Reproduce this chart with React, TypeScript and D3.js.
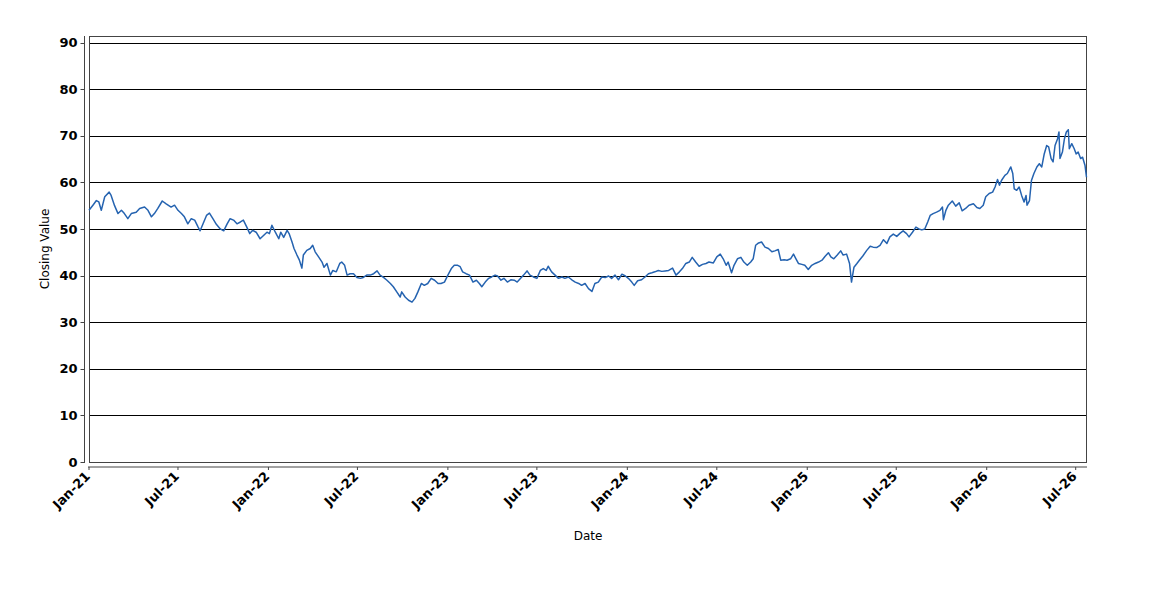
import React from "react";
import * as d3 from "d3";

const dates: string[] = [
  "2021-01-01","2021-01-09","2021-01-16","2021-01-21","2021-01-26","2021-02-02","2021-02-11","2021-02-15","2021-02-22","2021-03-01",
  "2021-03-08","2021-03-14","2021-03-21","2021-03-28","2021-04-07","2021-04-14","2021-04-24","2021-05-01","2021-05-08","2021-05-14",
  "2021-05-21","2021-05-30","2021-06-07","2021-06-17","2021-06-24","2021-07-01","2021-07-08","2021-07-14","2021-07-21","2021-07-28",
  "2021-08-04","2021-08-11","2021-08-15","2021-08-21","2021-08-28","2021-09-03","2021-09-10","2021-09-17","2021-09-25","2021-10-02",
  "2021-10-09","2021-10-15","2021-10-22","2021-10-29","2021-11-05","2021-11-11","2021-11-18","2021-11-24","2021-11-30","2021-12-07",
  "2021-12-15","2021-12-22","2021-12-29","2022-01-03","2022-01-08","2022-01-15","2022-01-22","2022-01-26","2022-02-01","2022-02-08",
  "2022-02-12","2022-02-18","2022-02-22","2022-02-28","2022-03-05","2022-03-10","2022-03-13","2022-03-20","2022-03-27","2022-04-01",
  "2022-04-06","2022-04-13","2022-04-20","2022-04-24","2022-04-30","2022-05-07","2022-05-12","2022-05-19","2022-05-26","2022-05-30",
  "2022-06-05","2022-06-10","2022-06-16","2022-06-23","2022-06-30","2022-07-07","2022-07-13","2022-07-20","2022-07-27","2022-08-03",
  "2022-08-10","2022-08-16","2022-08-23","2022-08-30","2022-09-06","2022-09-12","2022-09-19","2022-09-26","2022-09-29","2022-10-06",
  "2022-10-13","2022-10-20","2022-10-26","2022-11-01","2022-11-08","2022-11-14","2022-11-21","2022-11-28","2022-12-05","2022-12-12",
  "2022-12-18","2022-12-25","2023-01-01","2023-01-08","2023-01-14","2023-01-21","2023-01-26","2023-01-31","2023-02-07","2023-02-14",
  "2023-02-21","2023-02-28","2023-03-06","2023-03-11","2023-03-18","2023-03-25","2023-03-31","2023-04-07","2023-04-12","2023-04-19",
  "2023-04-25","2023-05-02","2023-05-09","2023-05-16","2023-05-22","2023-05-29","2023-06-04","2023-06-11","2023-06-17","2023-06-24",
  "2023-07-01","2023-07-08","2023-07-14","2023-07-20","2023-07-24","2023-07-31","2023-08-07","2023-08-14","2023-08-21","2023-08-27",
  "2023-09-03","2023-09-10","2023-09-17","2023-09-24","2023-09-30","2023-10-07","2023-10-14","2023-10-21","2023-10-27","2023-11-03",
  "2023-11-10","2023-11-17","2023-11-24","2023-11-30","2023-12-07","2023-12-14","2023-12-21","2023-12-28","2024-01-03","2024-01-10",
  "2024-01-15","2024-01-22","2024-01-30","2024-02-06","2024-02-13","2024-02-20","2024-02-26","2024-03-04","2024-03-11","2024-03-18",
  "2024-03-25","2024-04-02","2024-04-09","2024-04-16","2024-04-22","2024-04-29","2024-05-06","2024-05-12","2024-05-19","2024-05-26",
  "2024-06-02","2024-06-09","2024-06-15","2024-06-24","2024-07-01","2024-07-08","2024-07-14","2024-07-20","2024-07-24","2024-07-31",
  "2024-08-05","2024-08-12","2024-08-19","2024-08-25","2024-09-01","2024-09-08","2024-09-13","2024-09-18","2024-09-24","2024-09-30",
  "2024-10-07","2024-10-14","2024-10-21","2024-10-27","2024-11-03","2024-11-08","2024-11-15","2024-11-21","2024-11-28","2024-12-04",
  "2024-12-09","2024-12-14","2024-12-21","2024-12-27","2025-01-03","2025-01-10","2025-01-17","2025-01-24","2025-01-31","2025-02-06",
  "2025-02-13","2025-02-18","2025-02-24","2025-03-03","2025-03-10","2025-03-15","2025-03-22","2025-03-28","2025-04-01","2025-04-06",
  "2025-04-12","2025-04-17","2025-04-24","2025-05-02","2025-05-09","2025-05-15","2025-05-22","2025-05-29","2025-06-05","2025-06-12",
  "2025-06-18","2025-06-25","2025-07-02","2025-07-09","2025-07-15","2025-07-22","2025-07-27","2025-08-03","2025-08-10","2025-08-16",
  "2025-08-22","2025-08-28","2025-09-03","2025-09-08","2025-09-14","2025-09-21","2025-09-28","2025-10-03","2025-10-05","2025-10-10",
  "2025-10-15","2025-10-23","2025-10-30","2025-11-06","2025-11-12","2025-11-19","2025-11-26","2025-12-05","2025-12-12","2025-12-18",
  "2025-12-25","2025-12-30","2026-01-06","2026-01-13","2026-01-18","2026-01-23","2026-01-27","2026-01-31","2026-02-07","2026-02-12",
  "2026-02-19","2026-02-23","2026-02-26","2026-03-03","2026-03-08","2026-03-13","2026-03-18","2026-03-22","2026-03-24","2026-03-29",
  "2026-04-02","2026-04-07","2026-04-13","2026-04-18","2026-04-23","2026-04-28","2026-05-03","2026-05-07","2026-05-12","2026-05-16",
  "2026-05-20","2026-05-25","2026-05-28","2026-05-30","2026-06-04","2026-06-08","2026-06-12","2026-06-16","2026-06-18","2026-06-23",
  "2026-06-28","2026-07-02","2026-07-06","2026-07-11","2026-07-15","2026-07-20","2026-07-23"
];

const closing: number[] = [
  54.0,55.1,56.1,55.8,54.0,56.9,57.9,57.2,55.0,53.3,
  54.0,53.3,52.2,53.3,53.6,54.4,54.7,54.0,52.6,53.3,
  54.4,56.0,55.4,54.7,55.1,54.0,53.3,52.6,51.1,52.2,
  51.9,50.4,49.6,51.1,52.9,53.4,52.2,51.0,50.0,49.6,
  51.1,52.2,51.9,51.1,51.5,51.9,50.4,49.0,49.7,49.3,
  47.9,48.6,49.3,49.0,50.8,49.3,47.9,49.3,48.2,49.7,
  49.0,47.2,45.8,44.4,43.3,41.6,44.4,45.4,45.8,46.5,
  45.1,44.0,42.9,41.8,42.6,40.1,41.1,40.8,42.6,42.9,
  42.2,40.1,40.4,40.4,39.6,39.4,39.6,40.1,40.1,40.4,
  41.0,40.1,39.6,39.0,38.3,37.6,36.5,35.4,36.5,35.4,
  34.7,34.3,35.1,36.5,38.3,37.9,38.3,39.4,39.0,38.3,
  38.3,38.6,40.1,41.5,42.2,42.2,41.9,40.8,40.4,40.1,
  38.6,39.0,38.3,37.6,38.6,39.4,39.7,40.1,39.9,39.0,
  39.4,38.6,39.1,39.0,38.6,39.4,40.1,41.0,40.1,39.7,
  39.4,41.1,41.5,41.1,42.0,40.8,40.1,39.4,39.7,39.4,
  39.7,39.1,38.6,38.3,37.9,38.3,37.2,36.6,38.3,38.6,
  39.7,39.6,39.9,39.4,40.1,39.1,40.3,39.9,39.4,38.6,
  37.9,38.9,39.1,39.7,40.4,40.6,40.8,41.1,40.9,41.0,
  41.1,41.6,40.1,40.8,41.5,42.6,42.9,43.9,42.9,42.0,
  42.4,42.6,42.9,42.7,44.0,44.6,43.6,42.2,42.9,40.6,
  42.2,43.6,43.9,42.9,42.2,42.9,43.6,46.5,47.0,47.2,
  46.1,45.8,45.1,45.3,45.6,43.3,43.4,43.3,43.6,44.6,
  43.6,42.6,42.4,42.2,41.3,42.2,42.6,42.9,43.3,44.1,
  44.9,44.0,43.6,44.4,45.3,44.4,44.6,42.6,38.6,41.8,
  42.6,43.3,44.2,45.4,46.3,46.1,46.0,46.5,47.7,46.9,
  48.3,48.9,48.4,49.1,49.6,49.0,48.3,49.3,50.4,50.0,
  49.8,50.0,51.5,52.9,53.3,53.6,54.0,54.7,52.0,54.0,
  55.1,56.0,54.9,55.6,53.9,54.4,55.1,55.4,54.6,54.4,
  55.1,56.9,57.6,57.9,59.0,60.6,59.4,60.4,61.5,61.9,
  63.3,61.9,58.6,58.3,59.0,57.2,55.8,57.2,55.1,56.1,
  60.4,61.9,63.3,64.0,63.3,66.1,67.9,67.6,65.1,64.4,
  67.9,69.3,70.8,65.1,66.5,69.3,70.8,71.3,67.2,68.3,
  67.2,66.1,66.5,65.1,65.4,63.6,61.1
];

const yTicks: number[] = [0, 10, 20, 30, 40, 50, 60, 70, 80, 90];
const xTickDates: string[] = [
  "2021-01-01","2021-07-01","2022-01-01","2022-07-01","2023-01-01","2023-07-01",
  "2024-01-01","2024-07-01","2025-01-01","2025-07-01","2026-01-01","2026-07-01"
];
const domainStart = "2021-01-01";
const domainEnd = "2026-07-24";
const yMax = 91.4;

const W = 1150;
const H = 600;
const plot = { left: 89, right: 1087, top: 36, bottom: 462 };

export default function App() {
  const parse = d3.timeParse("%Y-%m-%d");
  const fmt = d3.timeFormat("%b-%y");
  const x = d3.scaleTime()
    .domain([parse(domainStart)!, parse(domainEnd)!])
    .range([plot.left, plot.right]);
  const y = d3.scaleLinear().domain([0, yMax]).range([plot.bottom, plot.top]);

  const pts: [Date, number][] = dates.map((d, i) => [parse(d)!, closing[i]]);
  const line = d3.line<[Date, number]>()
    .x((d) => x(d[0]))
    .y((d) => y(d[1]));

  const tickFont = { fontFamily: "DejaVu Sans", fontSize: 13, fontWeight: 700 as const };
  const axisY = plot.left - 4.5;
  const axisX = plot.bottom + 5;

  return (
    <svg width={W} height={H} style={{ position: "absolute", left: 0, top: 0, background: "#fff" }}>
      <rect x={0} y={0} width={W} height={H} fill="#fff" />
      {/* gridlines */}
      {yTicks.filter((t) => t > 0).map((t) => (
        <line key={"g" + t} x1={plot.left} x2={plot.right} y1={Math.round(y(t)) + 0.5} y2={Math.round(y(t)) + 0.5}
          stroke="#000" strokeWidth={1} />
      ))}
      {/* plot frame */}
      <rect x={plot.left + 0.5} y={plot.top + 0.5} width={plot.right - plot.left - 1} height={plot.bottom - plot.top}
        fill="none" stroke="#444" strokeWidth={1} />
      {/* data line */}
      <path d={line(pts) || ""} fill="none" stroke="#2563b0" strokeWidth={1.5} strokeLinejoin="round" />
      {/* y axis */}
      <line x1={axisY} x2={axisY} y1={plot.top} y2={plot.bottom + 1} stroke="#444" strokeWidth={1} />
      {yTicks.map((t) => (
        <g key={"y" + t}>
          <line x1={axisY - 4} x2={axisY} y1={Math.round(y(t)) + 0.5} y2={Math.round(y(t)) + 0.5} stroke="#444" />
          <text x={axisY - 7} y={y(t)} dy="0.36em" textAnchor="end" fill="#000" style={tickFont}>{t}</text>
        </g>
      ))}
      {/* x axis */}
      <line x1={plot.left - 1} x2={plot.right} y1={axisX} y2={axisX} stroke="#444" strokeWidth={1} />
      {xTickDates.map((s) => {
        const d = parse(s)!;
        const px = x(d);
        return (
          <g key={"x" + s}>
            <line x1={px} x2={px} y1={axisX} y2={axisX + 3} stroke="#444" />
            <text transform={`translate(${px + 2},${axisX + 10}) rotate(-45)`} textAnchor="end" fill="#000" style={tickFont}>
              {fmt(d)}
            </text>
          </g>
        );
      })}
      {/* axis titles */}
      <text transform={`translate(49,${(plot.top + plot.bottom) / 2}) rotate(-90)`} textAnchor="middle"
        style={{ fontFamily: "DejaVu Sans", fontSize: 12 }} fill="#000">Closing Value</text>
      <text x={588} y={540} textAnchor="middle" style={{ fontFamily: "DejaVu Sans", fontSize: 12 }} fill="#000">Date</text>
    </svg>
  );
}
